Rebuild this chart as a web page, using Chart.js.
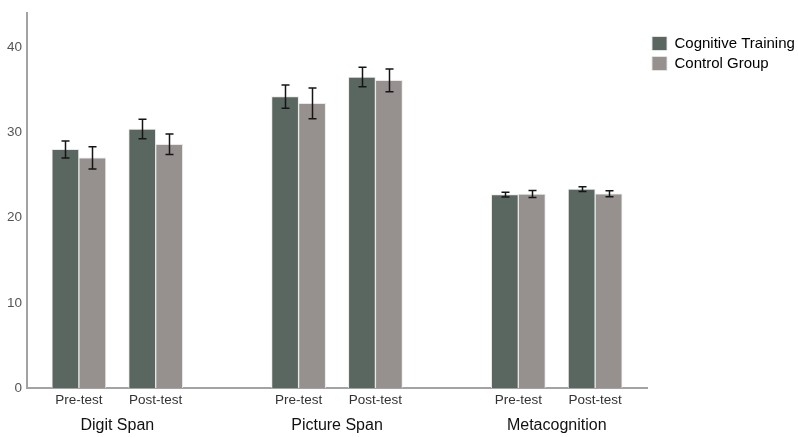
<!DOCTYPE html>
<html>
<head>
<meta charset="utf-8">
<script src="https://cdn.jsdelivr.net/npm/chart.js@4/dist/chart.umd.min.js"></script>
<style>
    body { margin: 0; background: #fff; }
    #wrap { width: 798px; height: 437px; position: relative; }
</style>
</head>
<body>
<div id="wrap"><canvas id="chart"></canvas></div>
<script>
const categories = ["Digit Span", "Picture Span", "Metacognition"]
const tests = ["Pre-test", "Post-test"]
const seriesNames = ["Cognitive Training", "Control Group"]

// means and error bars, order: DS pre, DS post, PS pre, PS post, MC pre, MC post
const trainingMeans = [28.0, 30.4, 34.2, 36.5, 22.7, 23.35]
const trainingErrors = [1.0, 1.15, 1.37, 1.15, 0.28, 0.28]
const controlMeans = [27.0, 28.6, 33.4, 36.1, 22.77, 22.8]
const controlErrors = [1.3, 1.2, 1.8, 1.33, 0.4, 0.35]

const yTicks = [0, 10, 20, 30, 40]

// gap between clusters, in units of the pre/post spacing
const clusterGap = 1.86
const edgePad = 0.675
let slotPos = (c, t) => c * (tests.length - 1 + clusterGap) + t

let testPositions = []
let testLabels = []
categories.forEach((cat, c) => {
    tests.forEach((t, i) => {
        testPositions.push(slotPos(c, i))
        testLabels.push(t)
    })
})
let categoryPositions = categories.map((cat, c) => slotPos(c, (tests.length - 1) / 2))
let xMin = -edgePad
let xMax = slotPos(categories.length - 1, tests.length - 1) + edgePad

let toPoints = (arr) => arr.map((v, i) => ({ x: testPositions[i], y: v }))

const font = "'Liberation Sans', Arial, sans-serif"
const axisColor = "#a3a3a3"

let errorBars = {
    id: "errorBars",
    afterDatasetsDraw(chart) {
        const ctx = chart.ctx
        const yScale = chart.scales.y
        ctx.save()
        ctx.strokeStyle = "#151515"
        ctx.lineWidth = 1.5
        chart.data.datasets.forEach((ds, i) => {
            const meta = chart.getDatasetMeta(i)
            meta.data.forEach((bar, j) => {
                const m = ds.data[j].y
                const e = ds.errors[j]
                const top = yScale.getPixelForValue(m + e)
                const bot = yScale.getPixelForValue(m - e)
                const x = Math.round(bar.x) + 0.5
                ctx.beginPath()
                ctx.moveTo(x, top); ctx.lineTo(x, bot)
                ctx.moveTo(x - 4, top); ctx.lineTo(x + 4, top)
                ctx.moveTo(x - 4, bot); ctx.lineTo(x + 4, bot)
                ctx.stroke()
            })
        })
        ctx.restore()
    }
}

window.addEventListener("load", () => {
    new Chart(document.getElementById("chart"), {
        type: "bar",
        data: {
            datasets: [
                {
                    label: seriesNames[0],
                    data: toPoints(trainingMeans),
                    errors: trainingErrors,
                    backgroundColor: "#5a6660",
                    borderColor: "rgba(230,232,230,0.9)",
                    borderWidth: 1,
                    barThickness: 27,
                },
                {
                    label: seriesNames[1],
                    data: toPoints(controlMeans),
                    errors: controlErrors,
                    backgroundColor: "#96918f",
                    borderColor: "rgba(230,230,230,0.9)",
                    borderWidth: 1,
                    barThickness: 27,
                }
            ]
        },
        options: {
            responsive: true,
            maintainAspectRatio: false,
            animation: false,
            layout: { padding: { left: 2, top: 13, right: 0, bottom: 0 } },
            plugins: {
                tooltip: { enabled: false },
                legend: {
                    position: "right",
                    align: "start",
                    maxWidth: 151,
                    title: { display: true, text: "", padding: 0, font: { size: 12, lineHeight: 1.5 } },
                    labels: {
                        boxWidth: 15,
                        boxHeight: 14,
                        padding: 5,
                        color: "#000",
                        font: { family: font, size: 15 }
                    }
                }
            },
            scales: {
                x: {
                    type: "linear",
                    min: xMin,
                    max: xMax,
                    offset: false,
                    weight: 0,
                    grid: { display: false, drawTicks: false },
                    border: { display: true, color: axisColor, width: 2 },
                    afterBuildTicks: (scale) => { scale.ticks = testPositions.map(v => ({ value: v })) },
                    ticks: {
                        autoSkip: false,
                        maxRotation: 0,
                        padding: 4.5,
                        color: "#333",
                        font: { family: font, size: 13.5 },
                        callback: (value, index) => testLabels[index]
                    }
                },
                xCat: {
                    type: "linear",
                    position: "bottom",
                    min: xMin,
                    max: xMax,
                    offset: false,
                    weight: 1,
                    grid: { display: false, drawTicks: false },
                    border: { display: false },
                    afterBuildTicks: (scale) => { scale.ticks = categoryPositions.map(v => ({ value: v })) },
                    ticks: {
                        autoSkip: false,
                        maxRotation: 0,
                        padding: 2.3,
                        color: "#111",
                        font: { family: font, size: 16 },
                        callback: (value, index) => categories[index]
                    }
                },
                y: {
                    min: 0,
                    max: 44,
                    grid: { display: false, drawTicks: false },
                    border: { display: true, color: axisColor, width: 2 },
                    afterBuildTicks: (scale) => { scale.ticks = yTicks.map(v => ({ value: v })) },
                    ticks: {
                        padding: 5,
                        color: "#555",
                        font: { family: font, size: 13.5 }
                    }
                }
            }
        },
        plugins: [errorBars]
    })
})
</script>
</body>
</html>
